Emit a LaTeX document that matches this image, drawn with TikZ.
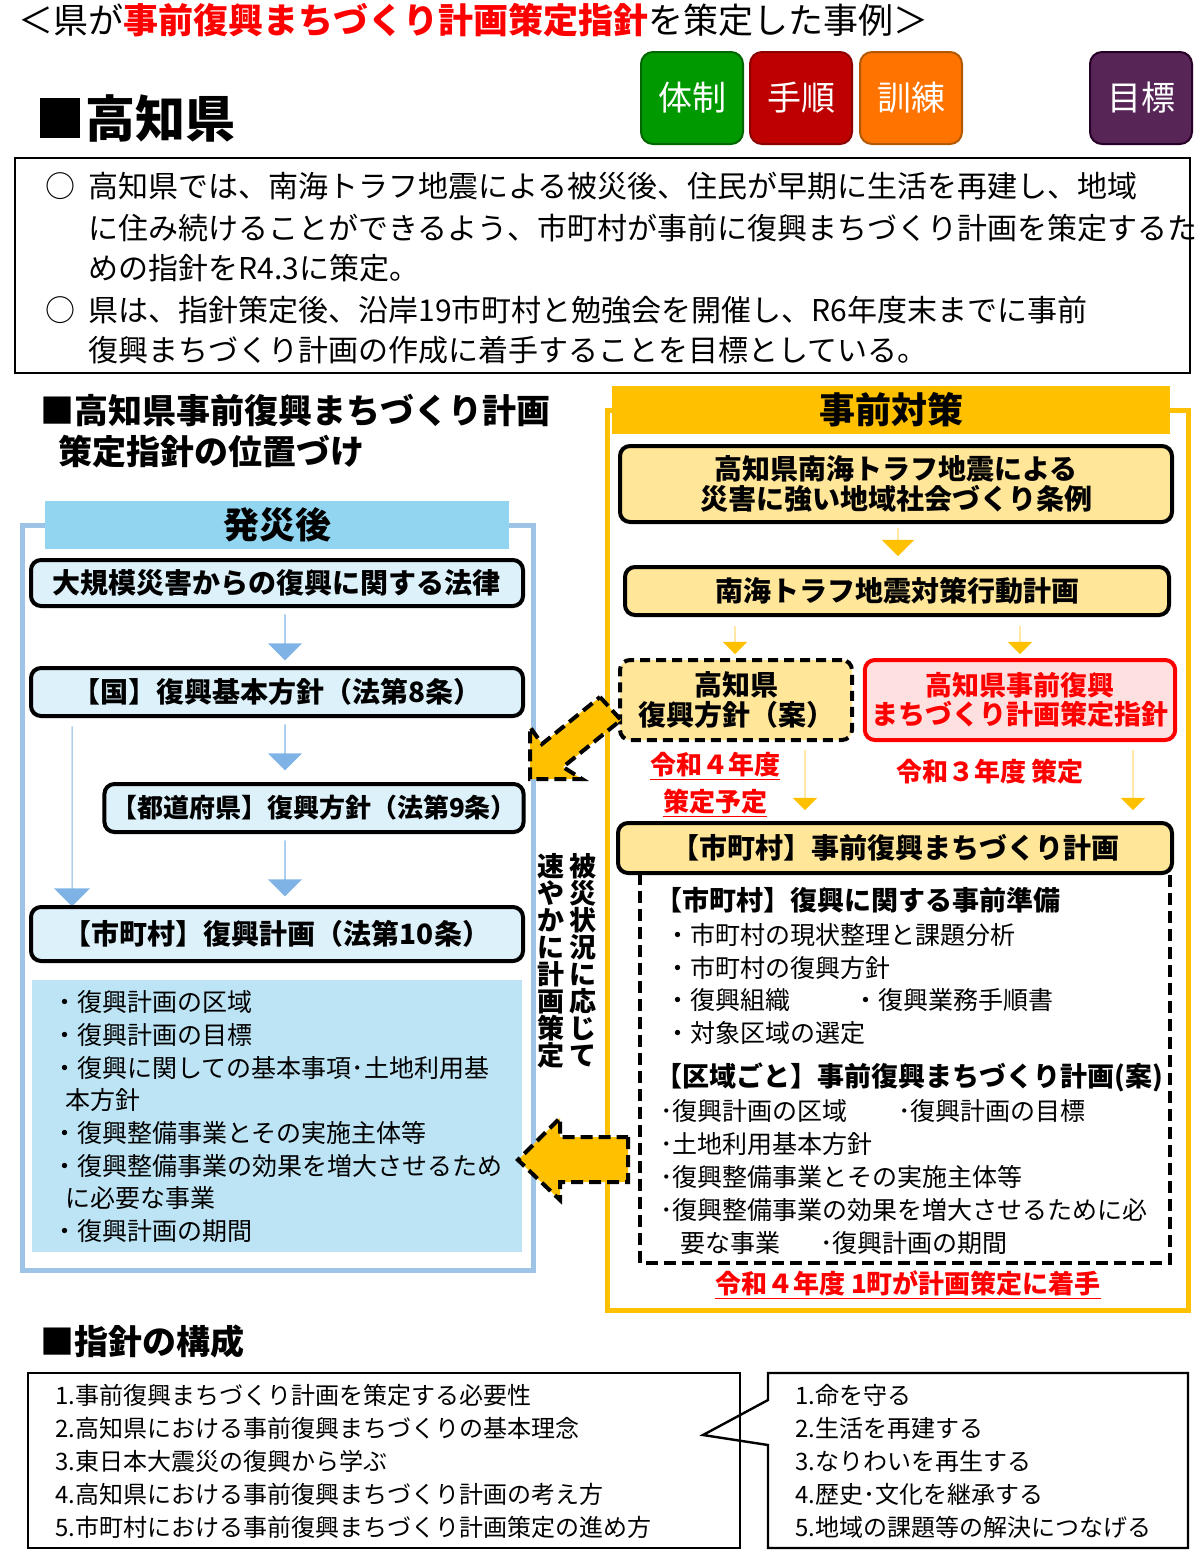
\documentclass[tikz,border=0pt]{standalone}
\usepackage{fontspec}
\setmainfont{Noto Sans CJK JP}
\usetikzlibrary{shapes.arrows}
\definecolor{kyellow}{HTML}{FFC000}
\definecolor{kpale}{HTML}{FFE699}
\definecolor{kblue}{HTML}{9DC3E6}
\definecolor{khead}{HTML}{92D5F0}
\definecolor{kcyan}{HTML}{DDF1FA}
\definecolor{klist}{HTML}{BDE4F4}
\definecolor{karrow}{HTML}{7FB3E6}
\definecolor{kred}{HTML}{FF0000}
\definecolor{kpink}{HTML}{FFE0E0}
\newcommand{\fs}[1]{\fontsize{#1}{#1}\selectfont}
\tikzset{
  txt/.style={anchor=west, inner sep=0pt, font=\fs{12.5pt}},
  hd/.style={anchor=west, inner sep=0pt, font=\fs{13.5pt}\bfseries},
  badge/.style={rounded corners=6pt, line width=1pt, text=white, font=\fs{17pt}, minimum width=51pt, minimum height=46pt},
  lawbox/.style={draw, line width=2pt, rounded corners=5pt, fill=kcyan, font=\fs{14pt}\bfseries},
  planbox/.style={draw, line width=2pt, rounded corners=5pt, fill=kpale, font=\fs{14pt}\bfseries, align=center},
  bluearr/.style={single arrow, fill=karrow, shape border rotate=270, minimum width=17pt, single arrow head extend=5pt, inner sep=0pt},
  yelarr/.style={single arrow, fill=kyellow, shape border rotate=270, minimum width=9pt, single arrow head extend=6pt, inner sep=0pt, minimum height=12pt},
  redtxt/.style={anchor=center, inner sep=0pt, text=kred, font=\fs{13pt}\bfseries, align=center}
}
\begin{document}
\begin{tikzpicture}[x=0.5pt,y=-0.5pt]
\useasboundingbox (0,0) rectangle (1200,1554);
% title
\node[anchor=west, inner sep=0pt, font=\fs{17.5pt}] (title) at (18,20) {＜県が{\color{kred}\bfseries 事前復興まちづくり計画策定指針}を策定した事例＞};
\node[anchor=west, inner sep=0pt, font=\fs{25pt}\bfseries] (pref) at (35,118) {■高知県};
\node[badge, fill=green!60!black, draw=green!40!black] (b1) at (692,98) {体制};
\node[badge, fill=red!75!black, draw=red!55!black] (b2) at (801,98) {手順};
\node[badge, fill=orange!90!red, draw=orange!70!black] (b3) at (911,98) {訓練};
\node[badge, fill=violet!45!black!85, draw=violet!30!black] (b4) at (1141,98) {目標};
% summary
\draw[line width=1.2pt] (15,158) rectangle (1190,373);
\node[txt, font=\fs{15pt}] (o1) at (45,186) {○};
\node[txt, font=\fs{15pt}] (s1) at (88,186) {高知県では、南海トラフ地震による被災後、住民が早期に生活を再建し、地域};
\node[txt, font=\fs{15pt}] (s2) at (88,228) {に住み続けることができるよう、市町村が事前に復興まちづくり計画を策定するた};
\node[txt, font=\fs{15pt}] (s3) at (88,268) {めの指針をR4.3に策定。};
\node[txt, font=\fs{15pt}] (o2) at (45,310) {○};
\node[txt, font=\fs{15pt}] (s4) at (88,310) {県は、指針策定後、沿岸19市町村と勉強会を開催し、R6年度末までに事前};
\node[txt, font=\fs{15pt}] (s5) at (88,350) {復興まちづくり計画の作成に着手することを目標としている。};
\node[anchor=west, inner sep=0pt, font=\fs{17pt}\bfseries] (sec1) at (40,410) {■高知県事前復興まちづくり計画};
\node[anchor=west, inner sep=0pt, font=\fs{17pt}\bfseries] (sec1b) at (58,452) {策定指針の位置づけ};
% right panel
\draw[kyellow, line width=2.5pt] (607,410) rectangle (1188,1310);
\node[fill=kyellow, minimum width=279pt, minimum height=22pt, font=\fs{18pt}\bfseries] (pre) at (891,410) {事前対策};
\node[planbox, minimum width=276pt, minimum height=38pt] (jorei) at (896,484) {高知県南海トラフ地震による\\[1pt]災害に強い地域社会づくり条例};
\node[yelarr, minimum height=14pt, minimum width=14pt, single arrow head extend=8pt] (a1) at (898,542) {};
\node[planbox, minimum width=272pt, minimum height=24pt] (kodo) at (897,591) {南海トラフ地震対策行動計画};
\node[yelarr, minimum height=14pt] (a2) at (735,640) {};
\node[yelarr, minimum height=14pt] (a3) at (1020,640) {};
\node[planbox, dash pattern=on 5pt off 3pt, minimum width=116pt, minimum height=40pt] (hoshin) at (736,700) {高知県\\[1pt]復興方針（案）};
\node[planbox, draw=kred, fill=kpink, text=kred, font=\fs{13.5pt}\bfseries, minimum width=155pt, minimum height=40pt] (shishin) at (1020,700) {高知県事前復興\\[1pt]まちづくり計画策定指針};
\node[redtxt] (r4) at (715,785) {\underline{令和４年度}\\[3pt]\underline{策定予定}};
\node[redtxt] (r3) at (990,772) {令和３年度 策定};
\node[yelarr, minimum height=30pt] (a4) at (805,780) {};
\node[yelarr, minimum height=30pt] (a5) at (1133,780) {};
\node[planbox, minimum width=277pt, minimum height=25pt] (plan) at (895,848) {【市町村】事前復興まちづくり計画};
\draw[line width=2pt, dash pattern=on 6pt off 3pt] (640,873) -- (640,1263) -- (1170,1263) -- (1170,873);
\node[hd] (p1) at (655,900) {【市町村】復興に関する事前準備};
\node[txt] (p2) at (665,935) {・市町村の現状整理と課題分析};
\node[txt] (p3) at (665,968) {・市町村の復興方針};
\node[txt] (p4) at (665,1000) {・復興組織};
\node[txt] (p5) at (853,1000) {・復興業務手順書};
\node[txt] (p6) at (665,1033) {・対象区域の選定};
\node[hd] (q1) at (655,1077) {【区域ごと】事前復興まちづくり計画(案)};
\node[txt] (q2) at (660,1111) {･復興計画の区域};
\node[txt] (q3) at (898,1111) {･復興計画の目標};
\node[txt] (q4) at (660,1144) {･土地利用基本方針};
\node[txt] (q5) at (660,1177) {･復興整備事業とその実施主体等};
\node[txt] (q6) at (660,1210) {･復興整備事業の効果を増大させるために必};
\node[txt] (q7) at (680,1243) {要な事業};
\node[txt] (q8) at (820,1243) {･復興計画の期間};
\node[redtxt] (r1) at (908,1285) {\underline{令和４年度 1町が計画策定に着手}};
% left panel
\draw[kblue, line width=2.5pt] (22,525) rectangle (533,1270);
\node[fill=khead, minimum width=232pt, minimum height=23pt, font=\fs{18pt}\bfseries] (post) at (277,525) {発災後};
\node[lawbox, minimum width=246pt, minimum height=23pt] (law) at (277,583) {大規模災害からの復興に関する法律};
\node[bluearr, minimum height=23pt] (c1) at (285,637) {};
\node[lawbox, minimum width=246pt, minimum height=24pt] (kuni) at (277,692) {【国】復興基本方針（法第8条）};
\node[bluearr, minimum height=23pt] (c2) at (285,747) {};
\node[lawbox, font=\fs{13pt}\bfseries, minimum width=209pt, minimum height=24pt] (ken) at (314,808) {【都道府県】復興方針（法第9条）};
\node[bluearr, minimum height=28pt] (c3) at (285,868) {};
\node[bluearr, minimum width=18pt, minimum height=90pt, single arrow head extend=7pt] (c4) at (72,816) {};
\node[lawbox, minimum width=246pt, minimum height=27pt] (city) at (277,934) {【市町村】復興計画（法第10条）};
\fill[klist] (32,980) rectangle (522,1252);
\node[txt] (l1) at (52,1002) {・復興計画の区域};
\node[txt] (l2) at (52,1035) {・復興計画の目標};
\node[txt] (l3) at (52,1068) {・復興に関しての基本事項･土地利用基};
\node[txt] (l4) at (65,1100) {本方針};
\node[txt] (l5) at (52,1133) {・復興整備事業とその実施主体等};
\node[txt] (l6) at (52,1166) {・復興整備事業の効果を増大させるため};
\node[txt] (l7) at (65,1198) {に必要な事業};
\node[txt] (l8) at (52,1231) {・復興計画の期間};
% vertical text
\node[anchor=north, inner sep=0pt, align=center, font=\fs{13.5pt}\bfseries] (v1) at (583,853) {被\\災\\状\\況\\に\\応\\じ\\て};
\node[anchor=north, inner sep=0pt, align=center, font=\fs{13.5pt}\bfseries] (v2) at (551,853) {速\\や\\か\\に\\計\\画\\策\\定};
% dashed block arrows
\draw[fill=kyellow, line width=2pt, dash pattern=on 6pt off 3pt] (600,697) -- (621,720) -- (563,767) -- (582,779) -- (530,779) -- (530,727) -- (542,744) -- cycle;
\draw[fill=kyellow, line width=2pt, dash pattern=on 6pt off 3pt] (628,1137) -- (628,1182) -- (560,1182) -- (560,1200) -- (518,1160) -- (560,1118) -- (560,1137) -- cycle;
% structure
\node[anchor=west, inner sep=0pt, font=\fs{17pt}\bfseries] (sec2) at (40,1342) {■指針の構成};
\draw[line width=1.2pt] (28,1373) rectangle (740,1548);
\draw[line width=1.2pt] (768,1373) -- (1188,1373) -- (1188,1548) -- (768,1548) -- (768,1445) -- (703,1435) -- (768,1400) -- cycle;
\node[txt, font=\fs{12pt}] (m1) at (55,1395) {1.事前復興まちづくり計画を策定する必要性};
\node[txt, font=\fs{12pt}] (m2) at (55,1428) {2.高知県における事前復興まちづくりの基本理念};
\node[txt, font=\fs{12pt}] (m3) at (55,1461) {3.東日本大震災の復興から学ぶ};
\node[txt, font=\fs{12pt}] (m4) at (55,1494) {4.高知県における事前復興まちづくり計画の考え方};
\node[txt, font=\fs{12pt}] (m5) at (55,1527) {5.市町村における事前復興まちづくり計画策定の進め方};
\node[txt, font=\fs{12pt}] (n1) at (795,1395) {1.命を守る};
\node[txt, font=\fs{12pt}] (n2) at (795,1428) {2.生活を再建する};
\node[txt, font=\fs{12pt}] (n3) at (795,1461) {3.なりわいを再生する};
\node[txt, font=\fs{12pt}] (n4) at (795,1494) {4.歴史･文化を継承する};
\node[txt, font=\fs{12pt}] (n5) at (795,1527) {5.地域の課題等の解決につなげる};
\end{tikzpicture}
\end{document}
